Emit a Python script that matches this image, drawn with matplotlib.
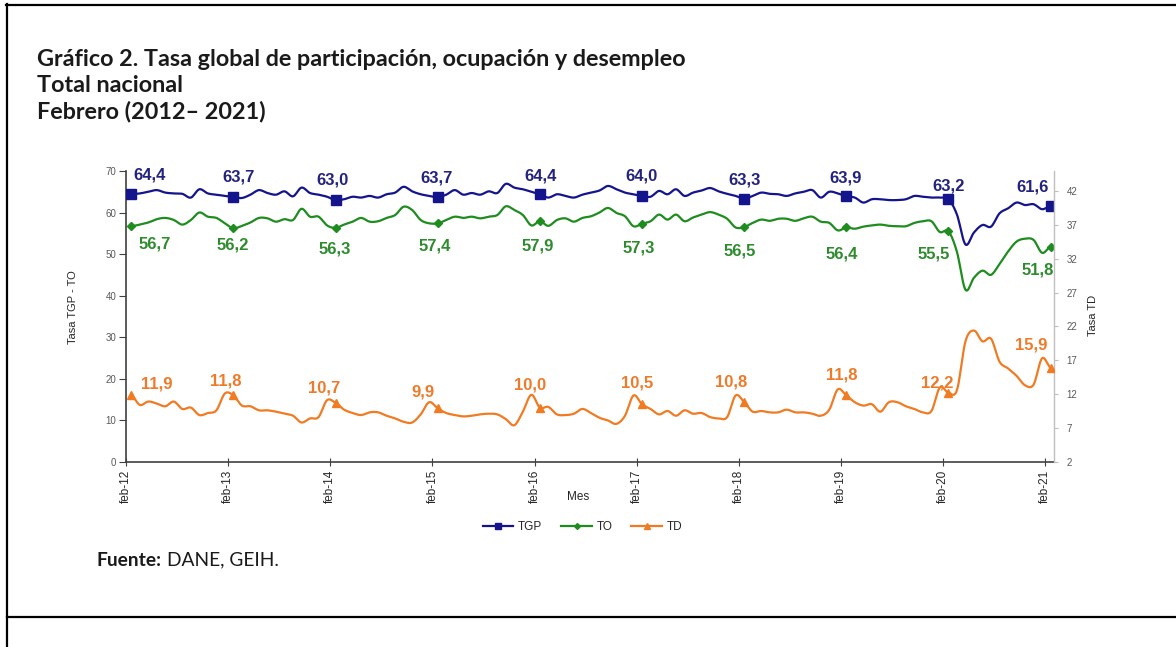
import numpy as np
import matplotlib
matplotlib.use("Agg")
import matplotlib.pyplot as plt
from matplotlib.lines import Line2D

# ---------------- data (monthly, feb-2012 .. feb-2021) ----------------
tick_labels = ["feb-12", "feb-13", "feb-14", "feb-15", "feb-16",
               "feb-17", "feb-18", "feb-19", "feb-20", "feb-21"]

tgp = [64.4, 64.6, 65.0, 65.4, 64.8, 64.6, 64.5, 63.6, 65.6, 64.6, 64.3, 64.0,
       63.7, 63.5, 64.3, 65.4, 64.7, 64.3, 65.1, 63.9, 66.0, 64.7, 64.3, 63.8,
       63.0, 63.2, 63.8, 63.6, 64.0, 63.6, 64.4, 64.8, 66.2, 65.1, 64.4, 64.0,
       63.7, 64.3, 65.4, 64.3, 64.7, 64.3, 65.1, 64.7, 66.9, 66.0, 65.6, 65.0,
       64.4, 63.6, 64.4, 64.0, 63.6, 64.3, 64.8, 65.3, 66.4, 65.6, 64.8, 64.4,
       64.0, 63.8, 65.2, 64.4, 65.6, 64.0, 64.8, 65.3, 65.9, 65.1, 64.5, 64.0,
       63.3, 64.0, 64.8, 64.5, 64.4, 64.0, 64.6, 65.0, 65.4, 63.6, 65.0, 64.6,
       63.9, 63.6, 62.4, 63.2, 63.2, 63.0, 63.0, 63.2, 64.0, 63.8, 63.6, 63.6,
       63.2, 59.5, 52.3, 55.2, 57.0, 56.6, 59.8, 61.0, 62.4, 61.8, 62.0, 60.8,
       61.6]

to = [56.7, 57.1, 57.6, 58.4, 58.7, 58.2, 57.1, 58.2, 60.0, 59.0, 58.7, 57.4,
      56.2, 56.8, 57.6, 58.7, 58.6, 57.8, 58.4, 58.2, 60.9, 59.0, 59.0, 56.9,
      56.3, 57.1, 57.8, 58.7, 57.8, 57.9, 58.7, 59.4, 61.4, 60.6, 58.2, 57.4,
      57.4, 58.2, 59.0, 58.7, 59.0, 58.6, 59.0, 59.4, 61.5, 60.6, 59.4, 56.9,
      57.9, 56.8, 58.2, 58.6, 57.8, 58.7, 59.1, 60.0, 61.1, 59.9, 59.1, 56.7,
      57.3, 57.9, 59.5, 58.3, 59.5, 57.9, 58.8, 59.5, 60.1, 59.5, 58.5, 56.4,
      56.5, 57.5, 58.3, 58.0, 58.5, 58.5, 58.0, 58.6, 59.0, 57.8, 57.5, 55.7,
      56.4, 56.1, 56.6, 56.9, 57.1, 56.8, 56.7, 56.7, 57.5, 57.9, 57.9, 55.3,
      55.5, 50.5, 41.4, 44.3, 46.0, 45.0, 47.6, 50.6, 53.0, 53.7, 53.4, 50.3,
      51.8]

td = [11.9, 10.4, 10.9, 10.6, 10.2, 10.9, 9.8, 10.0, 8.9, 9.2, 9.6, 12.1,
      11.8, 10.3, 10.2, 9.6, 9.6, 9.4, 9.1, 8.8, 7.8, 8.4, 8.6, 11.1,
      10.7, 9.7, 9.2, 8.9, 9.3, 9.3, 8.8, 8.4, 7.9, 7.8, 9.0, 10.8,
      9.9, 9.2, 8.9, 8.7, 8.8, 9.0, 9.1, 9.0, 8.3, 7.4, 9.4, 11.9,
      10.0, 10.1, 9.0, 8.9, 9.1, 9.8, 9.2, 8.5, 8.1, 7.6, 8.8, 11.8,
      10.5, 9.8, 9.0, 9.5, 8.8, 9.6, 9.1, 9.2, 8.6, 8.4, 8.6, 11.8,
      10.8, 9.4, 9.5, 9.3, 9.3, 9.7, 9.3, 9.3, 9.1, 8.8, 9.7, 12.7,
      11.8, 10.8, 10.3, 10.5, 9.4, 10.8, 10.8, 10.2, 9.8, 9.3, 9.5, 13.0,
      12.2, 12.6, 19.8, 21.4, 19.8, 20.2, 16.8, 15.8, 14.7, 13.3, 13.4, 17.3,
      15.9]

series_names = ["TGP", "TO", "TD"]

# ---------------- style ----------------
W, H = 1176, 647
C_TGP, C_TO, C_TD = "#14148C", "#1E8C1E", "#F07B22"
L_TGP, L_TO, L_TD = "#23237F", "#2E8B2E", "#EE7A2A"
AXC = "#404040"
TXT = "#262626"
LAB = "#595959"

# label offsets (pixels, image-down positive for dy)
tgp_dx = [18.6, 5.4, -3, -0.7, 1, -1, 0, -0.7, 0, -18]
tgp_dy = [-19, -19.7, -20, -19, -18.4, -19.5, -18.6, -18, -13.4, -19]
to_dx = [23, -0.6, -1, -3.4, -2, -3, -4, -5, -15, -13]
to_dy = [18, 16.7, 21.4, 22.6, 24.7, 23.8, 24, 27, 23, 23]
td_dx = [25, -8, -11, -15, -9.7, -4.6, -13, -4.7, -11, -19.6]
td_dy = [-11, -14.6, -14.8, -16.2, -22.8, -21, -20.7, -20.6, -9.7, -23]


def fx(px):
    return px / W


def fy(py):
    return 1 - py / H


def smooth(x, y, n=10):
    x = np.asarray(x, float)
    y = np.asarray(y, float)
    N = len(x)
    xs, ys = [], []
    t = np.linspace(0, 1, n, endpoint=False)
    for i in range(N - 1):
        p0 = y[i - 1] if i > 0 else y[i]
        p1, p2 = y[i], y[i + 1]
        p3 = y[i + 2] if i + 2 < N else y[i + 1]
        yy = 0.5 * (2 * p1 + (-p0 + p2) * t + (2 * p0 - 5 * p1 + 4 * p2 - p3) * t ** 2
                    + (-p0 + 3 * p1 - 3 * p2 + p3) * t ** 3)
        xs.append(x[i] + (x[i + 1] - x[i]) * t)
        ys.append(yy)
    xs.append([x[-1]])
    ys.append([y[-1]])
    return np.concatenate(xs), np.concatenate(ys)


fig = plt.figure(figsize=(W / 100, H / 100), dpi=100)
fig.patch.set_facecolor("white")

# frame lines
for xs_, ys_ in [([7, 7], [4, 647]), ([6, W], [5, 5]), ([7, W], [617, 617])]:
    fig.add_artist(Line2D([fx(v) for v in xs_], [fy(v) for v in ys_],
                          transform=fig.transFigure, color="black", lw=1.6))

ax = fig.add_axes([fx(126), fy(461.7), fx(1054) - fx(126), (461.7 - 171) / H])
ax2 = ax.twinx()

n = len(tgp)
x = np.arange(n)
feb_idx = x[::12]

xs, ys = smooth(x, tgp)
ax.plot(xs, ys, color=C_TGP, lw=1.6, solid_capstyle="round", zorder=3)
ax.plot(feb_idx, np.array(tgp)[feb_idx], ls="none", marker="s", ms=6.5,
        color=C_TGP, zorder=4)
xs, ys = smooth(x, to)
ax.plot(xs, ys, color=C_TO, lw=1.6, solid_capstyle="round", zorder=3)
ax.plot(feb_idx, np.array(to)[feb_idx], ls="none", marker="D", ms=4,
        color=C_TO, zorder=4)
xs, ys = smooth(x, td)
ax2.plot(xs, ys, color=C_TD, lw=1.6, solid_capstyle="round", zorder=3)
ax2.plot(feb_idx, np.array(td)[feb_idx], ls="none", marker="^", ms=6,
         color=C_TD, zorder=4)


def fmt(v):
    return f"{v:.1f}".replace(".", ",")


lab_kw = dict(textcoords="offset pixels", ha="center", va="center",
              fontsize=12, fontweight="bold", family="Liberation Sans")
for k, i in enumerate(feb_idx):
    ax.annotate(fmt(tgp[i]), (i, tgp[i]), xytext=(tgp_dx[k], -tgp_dy[k]),
                color=L_TGP, **lab_kw)
    ax.annotate(fmt(to[i]), (i, to[i]), xytext=(to_dx[k], -to_dy[k]),
                color=L_TO, **lab_kw)
    ax2.annotate(fmt(td[i]), (i, td[i]), xytext=(td_dx[k], -td_dy[k]),
                 color=L_TD, **lab_kw)

# axes
ax.set_xlim(-0.55, 108.4)
ax.set_ylim(0, 70)
ax2.set_ylim(2, 45)
ax.set_yticks(range(0, 71, 10))
ax2.set_yticks(range(2, 43, 5))
ax.set_xticks(feb_idx - 0.62)
ax.set_xticklabels(tick_labels, rotation=90, fontsize=8.5, color=TXT,
                   family="Liberation Sans")
for lbl in ax.get_yticklabels():
    lbl.set_family("Liberation Sans")
for lbl in ax2.get_yticklabels():
    lbl.set_family("Liberation Sans")
ax.tick_params(axis="x", direction="inout", length=6, color=AXC, pad=3)
ax.tick_params(axis="y", direction="out", length=5, color=AXC, labelsize=7,
               labelcolor=LAB, pad=2)
ax2.tick_params(axis="y", direction="out", length=3, color="#BFBFBF",
                labelsize=7, labelcolor=LAB, pad=6)

for s in ["top", "right"]:
    ax.spines[s].set_visible(False)
ax.spines["left"].set_color(AXC)
ax.spines["bottom"].set_color(AXC)
ax.spines["left"].set_linewidth(1.2)
ax.spines["bottom"].set_linewidth(1.2)
for s in ["top", "left", "bottom"]:
    ax2.spines[s].set_visible(False)
ax2.spines["right"].set_color("#BFBFBF")
ax2.spines["right"].set_linewidth(1.0)

# axis titles
fig.text(fx(73), fy(307), "Tasa TGP - TO", rotation=90, ha="center", va="center",
         fontsize=8, color=TXT, family="Liberation Sans")
fig.text(fx(1093), fy(315), "Tasa TD", rotation=90, ha="center", va="center",
         fontsize=8, color=TXT, family="Liberation Sans")
fig.text(fx(578), fy(497), "Mes", ha="center", va="center", fontsize=8.5,
         color=TXT, family="Liberation Sans")

# legend
handles = [Line2D([], [], color=C_TGP, marker="s", ms=4.5, lw=1.6),
           Line2D([], [], color=C_TO, marker="D", ms=3, lw=1.6),
           Line2D([], [], color=C_TD, marker="^", ms=4.5, lw=1.6)]
leg = fig.legend(handles, series_names, loc="center",
                 bbox_to_anchor=(fx(582.5), fy(527)), ncol=3, frameon=False,
                 handlelength=2.6, handletextpad=0.4, columnspacing=1.6,
                 borderpad=0, prop={"family": "Liberation Sans", "size": 8.5})
for t in leg.get_texts():
    t.set_color(TXT)

# titles (font size fitted to the reference line widths)
renderer = fig.canvas.get_renderer()
title_lines = ["Gráfico 2. Tasa global de participación, ocupación y desempleo",
               "Total nacional", "Febrero (2012– 2021)"]
title_widths = [668, 133, 235]
title_weights = [2, 1, 1]
title_ys = [59, 86, 111]
sizes = []
for s, wt in zip(title_lines, title_widths):
    tt = fig.text(0, 0, s, fontsize=13, fontweight="bold", family="Lato")
    sizes.append(13 * wt / tt.get_window_extent(renderer).width)
    tt.remove()
fs = float(np.average(sizes, weights=title_weights))
for s, yy in zip(title_lines, title_ys):
    fig.text(fx(37), fy(yy), s, fontsize=fs, fontweight="bold",
             family="Lato", va="center", color="#1a1a1a")

# source line, fitted to the reference width (97 .. 278 px)
fsz = 11.0
gap = 5
f1 = fig.text(fx(97), fy(560), "Fuente:", fontsize=fsz, fontweight="bold",
              family="Lato", va="center", color="#1a1a1a")
f2 = fig.text(0, 0, "DANE, GEIH.", fontsize=fsz, family="Lato",
              va="center", color="#1a1a1a")
wtot = f1.get_window_extent(renderer).width + f2.get_window_extent(renderer).width
fsz = fsz * (181 - gap) / wtot
f1.set_fontsize(fsz)
f2.set_fontsize(fsz)
bb = f1.get_window_extent(renderer)
f2.set_position((fx(bb.x1 + gap), fy(560)))

fig.savefig("out.png", dpi=100, facecolor="white")
